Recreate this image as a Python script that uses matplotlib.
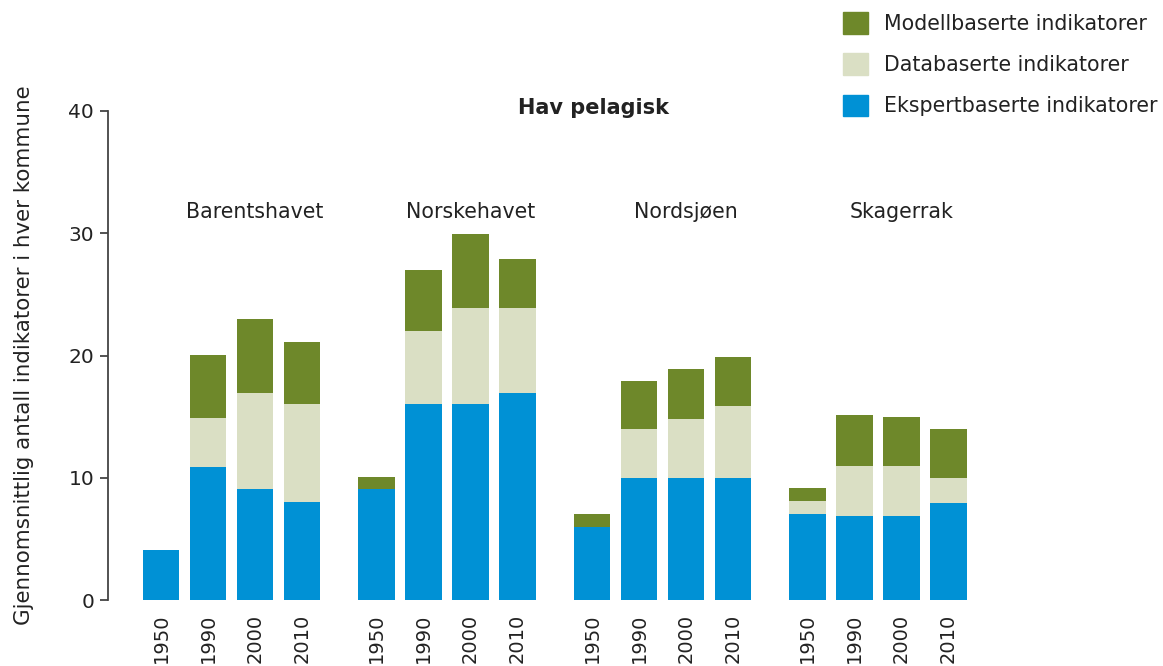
import matplotlib.pyplot as plt
import numpy as np
from matplotlib.patches import Patch

plt.rcParams['font.family'] = ['DejaVu Sans']

regions = ['Barentshavet', 'Norskehavet', 'Nordsjøen', 'Skagerrak']
years = ['1950', '1990', '2000', '2010']

# stacked values per region, in year order
ekspert = [[4.1, 10.9, 9.1, 8.0],
           [9.1, 16.0, 16.0, 16.9],
           [6.0, 10.0, 10.0, 10.0],
           [7.0, 6.9, 6.9, 7.9]]
database = [[0.0, 4.0, 7.8, 8.0],
            [0.0, 6.0, 7.9, 7.0],
            [0.0, 4.0, 4.8, 5.9],
            [1.1, 4.1, 4.1, 2.1]]
modell = [[0.0, 5.1, 6.1, 5.1],
          [1.0, 5.0, 6.0, 4.0],
          [1.0, 3.9, 4.1, 4.0],
          [1.1, 4.1, 4.0, 4.0]]

c_modell = '#6E882A'
c_data = '#DADFC4'
c_ekspert = '#0091D5'
txt = '#222222'

fig = plt.figure(figsize=(11.63, 6.66), dpi=100)
ax = fig.add_axes([108 / 1163, 66 / 666, (1000 - 108) / 1163, 489 / 666])

stride = 4.585
width = 0.77
xs, labels = [], []
for g in range(len(regions)):
    x = g * stride + np.arange(len(years))
    e = np.array(ekspert[g])
    d = np.array(database[g])
    m = np.array(modell[g])
    ax.bar(x, e, width, color=c_ekspert)
    ax.bar(x, d, width, bottom=e, color=c_data)
    ax.bar(x, m, width, bottom=e + d, color=c_modell)
    ax.text(g * stride + 2, 31.7, regions[g], ha='center', va='center',
            fontsize=14.8, color=txt)
    xs.extend(x)
    labels.extend(years)

ax.set_xlim(-1.128, 17.85)
ax.set_ylim(0, 40)
ax.set_xticks(xs)
ax.set_xticklabels(labels, rotation=90, fontsize=14, color=txt)
ax.tick_params(axis='x', length=0, pad=10)
ax.set_yticks([0, 10, 20, 30, 40])
ax.tick_params(axis='y', length=6, width=1.3, color='#444444',
               labelsize=14.5, labelcolor=txt, pad=4)
for s in ['top', 'right', 'bottom']:
    ax.spines[s].set_visible(False)
ax.spines['left'].set_linewidth(1.3)
ax.spines['left'].set_color('#444444')

ax.set_ylabel('Gjennomsnittlig antall indikatorer i hver kommune',
              fontsize=15.4, color=txt)
ax.yaxis.set_label_coords(-0.083, 0.50)

fig.text(593 / 1163, 1 - 108 / 666, 'Hav pelagisk', ha='center',
         va='center', fontsize=15, fontweight='bold', color=txt)

handles = [Patch(color=c_modell), Patch(color=c_data), Patch(color=c_ekspert)]
fig.legend(handles, ['Modellbaserte indikatorer', 'Databaserte indikatorer',
                     'Ekspertbaserte indikatorer'],
           loc='upper left', bbox_to_anchor=(843 / 1163, 1 - 12 / 666),
           frameon=False, fontsize=14.8, handlelength=1.2, handleheight=1.25,
           handletextpad=0.78, labelspacing=0.95, borderpad=0,
           borderaxespad=0, labelcolor=txt)

fig.savefig('out.png', dpi=100)
